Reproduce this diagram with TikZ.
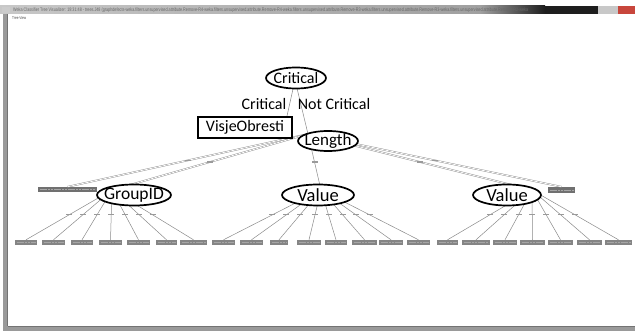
\documentclass[tikz,border=0pt]{standalone}
\usepackage{fontspec}
\setmainfont{Carlito}
\newfontfamily\uifont{Liberation Sans}
\usetikzlibrary{shapes.geometric}
\definecolor{edgegray}{HTML}{8A8A8A}
\definecolor{leafgray}{HTML}{858585}
\definecolor{leafdark}{HTML}{707070}
\definecolor{leaftext}{HTML}{A6A6A6}
\definecolor{labgray}{HTML}{9A9A9A}
\definecolor{barlight}{HTML}{C8C8C8}
\definecolor{barmid}{HTML}{A0A0A0}
\definecolor{bardark}{HTML}{1E1E1E}
\definecolor{closered}{HTML}{C8463C}
\definecolor{framegray}{HTML}{9A9A9A}
\begin{document}
\begin{tikzpicture}[x=1pt,y=-1pt,
  ell/.style={ellipse, draw=black, line width=1.7pt, fill=white, inner sep=0pt},
  obox/.style={rectangle, draw=black, line width=1.7pt, fill=white, inner sep=0pt},
  leaftxt/.style={path picture={\draw[leaftext, line width=0.8pt, dash pattern=on 2.2pt off 0.6pt]
      ([xshift=1.5pt]path picture bounding box.west) -- ([xshift=-1.5pt]path picture bounding box.east);}},
  leaf/.style={rectangle, fill=leafgray, inner sep=0pt, minimum height=5pt, leaftxt},
  leafbig/.style={rectangle, fill=leafdark, inner sep=0pt, minimum height=5pt, leaftxt},
  elab/.style={rectangle, fill=labgray, inner sep=0pt, minimum width=6pt, minimum height=1.1pt},
  tedge/.style={draw=edgegray, line width=0.5pt},
  dedge/.style={draw=edgegray, double=white, double distance=0.8pt, line width=0.4pt},
  big/.style={font=\fontsize{16}{16}\selectfont}
]
\useasboundingbox (0,0) rectangle (635,331);
\fill[white] (0,0) rectangle (635,331);
% window chrome
\shade[left color=barlight, right color=barmid] (0,6) rectangle (480,14);
\shade[left color=barmid, right color=bardark] (480,6) rectangle (545,14);
\fill[bardark] (545,6) rectangle (598,14);
\fill[barlight] (598,6) rectangle (618,14);
\fill[closered] (618,6) rectangle (635,14);
\fill[white!60!gray] (2,7) rectangle (10,13);
\node[anchor=west, inner sep=0pt, text=black!60] (title) at (13,10)
  {\resizebox{515pt}{3.6pt}{\uifont Weka Classifier Tree Visualizer: 19:31:48 - trees.J48 (graphdefects-weka.filters.unsupervised.attribute.Remove-R4-weka.filters.unsupervised.attribute.Remove-R4-weka.filters.unsupervised.attribute.Remove-R3-weka.filters.unsupervised.attribute.Remove-R3-weka.filters.unsupervised.attribute.Remove-R2-weka}};
\node[anchor=west, inner sep=0pt, text=black!70] (menu) at (12,18.5)
  {\resizebox{14pt}{3pt}{\uifont Tree View}};
\fill[framegray] (3,14) rectangle (7.5,331);
\fill[black!55] (6.5,14) rectangle (7.5,327);
\fill[framegray] (3,326.5) rectangle (635,331);
\fill[black!55] (7.5,326.5) rectangle (635,327.5);

% hidden original node positions
\coordinate (critC) at (295,80);
\coordinate (visC) at (283,134);
\coordinate (lenC) at (308,134);
\coordinate (grpC) at (112,190);
\coordinate (val1C) at (321,190);
\coordinate (val2C) at (532,190);

% level-1 leaves
\node[leafbig, minimum width=59pt] (leafL) at (67.5,189.5) {};
\node[leafbig, minimum width=27pt, minimum height=6pt] (leafR) at (561.5,190) {};

% level-3 leaves
\foreach \n/\x/\w in {g1/26/22, g2/53.5/23, g3/82/22, g4/110.5/23, g5/138.5/23, g6/166.5/21, g7/193.5/27,
  m1/223.5/23, m2/251.5/23, m3/279/18, m4/309/24, m5/336/22, m6/364.5/25, m7/391/24, m8/418.5/23,
  r1/447.5/21, r2/476/28, r3/505/24, r4/532.5/25, r5/560.5/25, r6/589.5/25, r7/618.5/27}
  \node[leaf, minimum width=\w pt] (\n) at (\x,242.5) {};

% edges
\draw[tedge] (critC) -- (visC);
\draw[tedge] (critC) -- (lenC);
\draw[dedge] (lenC) -- node[elab]{} (leafL.north);
\draw[dedge] (lenC) -- node[elab]{} (grpC);
\draw[tedge] (lenC) -- node[elab]{} (val1C);
\draw[dedge] (lenC) -- node[elab]{} (leafR.north);
\draw[dedge] (lenC) -- node[elab]{} (val2C);
\foreach \n in {g1,g2,g3,g4,g5,g6,g7}
  \draw[tedge] (grpC) -- node[elab]{} (\n.north);
\foreach \n in {m1,m2,m3,m4,m5,m6,m7,m8}
  \draw[tedge] (val1C) -- node[elab]{} (\n.north);
\foreach \n in {r1,r2,r3,r4,r5,r6,r7}
  \draw[tedge] (val2C) -- node[elab]{} (\n.north);

% visible nodes
\node[ell, minimum width=60pt, minimum height=21pt,
  label={[font=\fontsize{16}{16}\selectfont]center:Critical}] (crit) at (296,78) {};
\node[obox, minimum width=94pt, minimum height=21pt, big] (vis) at (245,127.5) {VisjeObresti};
\node[ell, minimum width=60pt, minimum height=20pt,
  label={[font=\fontsize{17}{17}\selectfont]center:Length}] (len) at (328,141) {};
\node[ell, minimum width=74pt, minimum height=21pt,
  label={[font=\fontsize{17.5}{17.5}\selectfont]center:GroupID}] (grp) at (134,195) {};
\node[ell, minimum width=72pt, minimum height=21pt,
  label={[font=\fontsize{18.5}{18.5}\selectfont]center:Value}] (val1) at (318,195) {};
\node[ell, minimum width=68pt, minimum height=21pt,
  label={[font=\fontsize{18.5}{18.5}\selectfont]center:Value}] (val2) at (507,195) {};

% top edge labels
\node[big, inner sep=0pt] (lcrit) at (264,104) {Critical};
\node[big, inner sep=0pt] (lnot) at (334,104) {Not Critical};
\end{tikzpicture}
\end{document}
